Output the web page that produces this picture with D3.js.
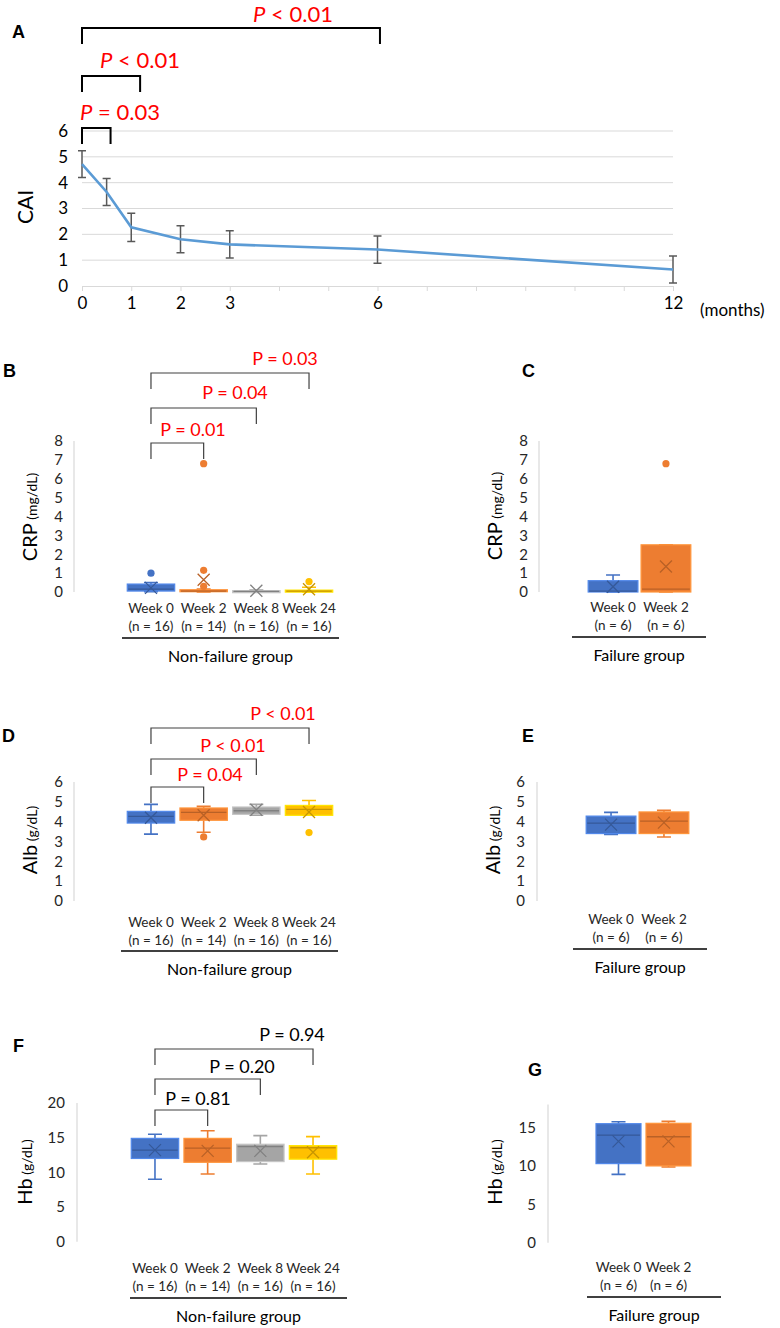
<!DOCTYPE html>
<html lang="en">
<head>
<meta charset="UTF-8">
<title>CAI, CRP, Alb, Hb</title>
<script src="https://d3js.org/d3.v7.min.js"></script>
<style>
  body { margin: 0; background: #fff; }
  svg { display: block; }
  text { font-family: Lato, "Liberation Sans", sans-serif; }
  .panel-letter { font-family: "Liberation Sans", Arial, sans-serif; font-weight: bold; font-size: 18px; }
</style>
</head>
<body>
<script>
// ---- Panel A: CAI over time ----
const caiMonths = [0, 0.5, 1, 2, 3, 6, 12];
const caiMean = [4.72, 3.64, 2.27, 1.81, 1.61, 1.41, 0.64];
const caiSd = [0.52, 0.52, 0.55, 0.52, 0.53, 0.53, 0.52];
const caiTicksY = [0, 1, 2, 3, 4, 5, 6];
const caiTickLabelsX = [0, 1, 2, 3, 6, 12];
const caiBracketEnds = [0.58, 1.18, 6.05];
const caiPLabels = [" = 0.03", " < 0.01", " < 0.01"];

// ---- box plot panels ----
const weeksNF = ["Week 0", "Week 2", "Week 8", "Week 24"];
const nNF = ["(n = 16)", "(n = 14)", "(n = 16)", "(n = 16)"];
const weeksF = ["Week 0", "Week 2"];
const nF = ["(n = 6)", "(n = 6)"];
const boxColors = ["#4472c4", "#ed7d31", "#a5a5a5", "#ffc000"];

// CRP, non-failure (B)
const crpNF_lo = [0.02, 0.0, 0.0, 0.0];
const crpNF_q1 = [0.05, 0.02, 0.01, 0.02];
const crpNF_med = [0.15, 0.05, 0.03, 0.05];
const crpNF_q3 = [0.42, 0.12, 0.07, 0.1];
const crpNF_hi = [0.5, 0.15, 0.1, 0.25];
const crpNF_mean = [0.22, 0.65, 0.07, 0.15];
const crpNF_out = [[1.0], [6.8, 1.15, 0.3], [], [0.55]];
const crpNF_p = ["P = 0.01", "P = 0.04", "P = 0.03"];

// CRP, failure (C)
const crpF_lo = [0.0, 0.0];
const crpF_q1 = [0.0, 0.0];
const crpF_med = [0.05, 0.15];
const crpF_q3 = [0.6, 2.5];
const crpF_hi = [0.9, 2.5];
const crpF_mean = [0.28, 1.35];
const crpF_out = [[], [6.8]];

// Alb, non-failure (D)
const albNF_lo = [3.37, 3.47, 4.32, 4.32];
const albNF_q1 = [3.93, 4.07, 4.37, 4.32];
const albNF_med = [4.27, 4.47, 4.55, 4.62];
const albNF_q3 = [4.52, 4.69, 4.74, 4.82];
const albNF_hi = [4.87, 4.77, 4.87, 5.07];
const albNF_mean = [4.2, 4.32, 4.6, 4.49];
const albNF_out = [[], [3.23], [], [3.45]];
const albNF_p = ["P = 0.04", "P < 0.01", "P < 0.01"];

// Alb, failure (E)
const albF_lo = [3.35, 3.23];
const albF_q1 = [3.4, 3.4];
const albF_med = [3.93, 4.03];
const albF_q3 = [4.28, 4.49];
const albF_hi = [4.47, 4.57];
const albF_mean = [3.85, 3.95];
const albF_out = [[], []];

// Hb, non-failure (F)
const hbNF_lo = [9.0, 9.77, 11.2, 9.77];
const hbNF_q1 = [12.0, 11.45, 11.55, 11.9];
const hbNF_med = [13.2, 13.5, 13.7, 13.55];
const hbNF_q3 = [14.9, 14.9, 14.05, 13.85];
const hbNF_hi = [15.5, 16.0, 15.3, 15.15];
const hbNF_mean = [13.2, 13.1, 13.1, 12.9];
const hbNF_out = [[], [], [], []];
const hbNF_p = ["P = 0.81", "P = 0.20", "P = 0.94"];

// Hb, failure (G)
const hbF_lo = [8.9, 9.85];
const hbF_q1 = [10.3, 10.0];
const hbF_med = [14.0, 13.8];
const hbF_q3 = [15.5, 15.55];
const hbF_hi = [15.75, 15.8];
const hbF_mean = [13.2, 13.2];
const hbF_out = [[], []];

const width = 780, height = 1328;
const svg = d3.select("body").append("svg")
  .attr("width", width)
  .attr("height", height);

function letter(t, x, y) {
  svg.append("text").attr("class", "panel-letter").attr("x", x).attr("y", y).text(t);
}

// ================= Panel A =================
const xA = d3.scaleLinear().domain([0, 12]).range([82, 673]);
const yA = d3.scaleLinear().domain([0, 6]).range([286, 131]);
const gA = svg.append("g");

gA.selectAll(".grid").data(caiTicksY.filter(d => d > 0)).enter().append("line")
  .attr("x1", xA(0)).attr("x2", xA(12))
  .attr("y1", d => yA(d)).attr("y2", d => yA(d))
  .attr("stroke", "#d9d9d9").attr("stroke-width", 1);

gA.append("g")
  .attr("transform", `translate(0,${yA(0)})`)
  .call(d3.axisBottom(xA).tickValues(d3.range(0, 13)).tickSize(5).tickSizeOuter(0).tickPadding(6)
    .tickFormat(d => caiTickLabelsX.includes(d) ? d : ""))
  .call(a => a.selectAll("line, path").attr("stroke", "#d9d9d9"))
  .call(a => a.selectAll("text").attr("font-size", 17).attr("fill", "#000"));

gA.append("g")
  .attr("transform", `translate(${xA(0)},0)`)
  .call(d3.axisLeft(yA).tickValues(caiTicksY).tickFormat(d3.format("d")).tickSize(0).tickPadding(14))
  .call(a => a.select(".domain").remove())
  .call(a => a.selectAll("text").attr("font-size", 17).attr("fill", "#000"));

gA.append("text")
  .attr("transform", "translate(33,207) rotate(-90)")
  .attr("text-anchor", "middle").attr("font-size", 21).text("CAI");

gA.append("text").attr("x", 700).attr("y", 316).attr("font-size", 17).text("(months)");

// error bars
const caiPts = caiMonths.map((m, i) => ({ m, v: caiMean[i], sd: caiSd[i] }));
gA.selectAll(".err").data(caiPts).enter().append("path")
  .attr("d", d => {
    const x = xA(d.m), y1 = yA(d.v + d.sd), y2 = yA(d.v - d.sd);
    return `M${x - 4},${y1}H${x + 4}M${x},${y1}V${y2}M${x - 4},${y2}H${x + 4}`;
  })
  .attr("fill", "none").attr("stroke", "#595959").attr("stroke-width", 1.5);

gA.append("path").datum(caiPts)
  .attr("d", d3.line().x(d => xA(d.m)).y(d => yA(d.v)))
  .attr("fill", "none").attr("stroke", "#5b9bd5").attr("stroke-width", 2.6);

// significance brackets A
const aTops = [128, 76, 28];
const aText = [{ x: 120, y: 120 }, { x: 140, y: 68 }, { x: 293, y: 22 }];
caiBracketEnds.forEach((e, i) => {
  const x1 = xA(0), x2 = xA(e), t = aTops[i];
  gA.append("path")
    .attr("d", `M${x1},${t + 16}V${t}H${x2}V${t + 16}`)
    .attr("fill", "none").attr("stroke", "#000").attr("stroke-width", 2);
  const tx = gA.append("text").attr("x", aText[i].x).attr("y", aText[i].y)
    .attr("text-anchor", "middle").attr("font-size", 22).attr("fill", "#ff0000");
  tx.append("tspan").attr("font-style", "italic").text("P");
  tx.append("tspan").text(caiPLabels[i]);
});
letter("A", 12, 38);

// ================= box panels =================
function boxPanel(o) {
  const g = svg.append("g");
  const x = d3.scaleBand().domain(o.cats).range(o.xr).padding(o.pad);
  const y = d3.scaleLinear().domain(o.dom).range(o.yr);
  const bw = x.bandwidth();
  const cx = c => x(c) + bw / 2;

  g.append("line")
    .attr("x1", o.ax).attr("x2", o.ax)
    .attr("y1", y(o.dom[1])).attr("y2", y(0))
    .attr("stroke", "#d9d9d9").attr("stroke-width", 1.2);

  g.append("g")
    .attr("transform", `translate(${o.ax},0)`)
    .call(d3.axisLeft(y).tickValues(o.ticks).tickFormat(d3.format("d")).tickSize(0).tickPadding(o.tp))
    .call(a => a.select(".domain").remove())
    .call(a => a.selectAll("text").attr("font-size", 15).attr("fill", "#262626"));

  // rotated y label
  const yl = g.append("text")
    .attr("transform", `translate(${o.ylx},${o.yly}) rotate(-90)`)
    .attr("text-anchor", "middle").attr("fill", "#000");
  yl.append("tspan").attr("font-size", 20).text(o.yName);
  yl.append("tspan").attr("font-size", 14).text(" " + o.yUnit);

  const rows = o.cats.map((c, i) => ({
    c, i, col: boxColors[i],
    lo: o.lo[i], q1: o.q1[i], med: o.med[i], q3: o.q3[i], hi: o.hi[i],
    mean: o.mean[i], out: o.out[i]
  }));

  const b = g.selectAll(".box").data(rows).enter().append("g");
  // whiskers
  b.append("path")
    .attr("d", d => {
      const m = cx(d.c), w = 7;
      return `M${m},${y(d.q3)}V${y(d.hi)}M${m - w},${y(d.hi)}H${m + w}` +
             `M${m},${y(d.q1)}V${y(d.lo)}M${m - w},${y(d.lo)}H${m + w}`;
    })
    .attr("fill", "none").attr("stroke", d => d.col).attr("stroke-width", 1.6);
  b.append("rect")
    .attr("x", d => x(d.c)).attr("width", bw)
    .attr("y", d => y(d.q3)).attr("height", d => Math.max(2, y(d.q1) - y(d.q3)))
    .attr("fill", d => d.col)
    .attr("stroke", d => d3.color(d.col).brighter(0.5)).attr("stroke-width", 1.2);
  b.append("line")
    .attr("x1", d => x(d.c) + 1).attr("x2", d => x(d.c) + bw - 1)
    .attr("y1", d => y(d.med)).attr("y2", d => y(d.med))
    .attr("stroke", d => d3.color(d.col).darker(0.7)).attr("stroke-width", 1.3);
  b.append("path")
    .attr("d", d => {
      const m = cx(d.c), v = y(d.mean), s = 6;
      return `M${m - s},${v - s}L${m + s},${v + s}M${m - s},${v + s}L${m + s},${v - s}`;
    })
    .attr("stroke", d => d3.color(d.col).darker(0.7)).attr("stroke-width", 1.3);
  b.selectAll(".out").data(d => d.out.map(v => ({ v, d }))).enter().append("circle")
    .attr("cx", e => cx(e.d.c)).attr("cy", e => y(e.v)).attr("r", 3.6)
    .attr("fill", e => e.d.col);

  // category labels
  o.cats.forEach((c, i) => {
    g.append("text").attr("x", cx(c)).attr("y", o.labY).attr("text-anchor", "middle")
      .attr("font-size", 13.5).attr("fill", "#262626").text(c);
    g.append("text").attr("x", cx(c)).attr("y", o.labY + 18).attr("text-anchor", "middle")
      .attr("font-size", 13.5).attr("fill", "#262626").text(o.ns[i]);
  });
  g.append("line")
    .attr("x1", o.ul[0]).attr("x2", o.ul[1]).attr("y1", o.ulY).attr("y2", o.ulY)
    .attr("stroke", "#000").attr("stroke-width", 1.6);
  g.append("text").attr("x", (o.ul[0] + o.ul[1]) / 2).attr("y", o.ulY + 24)
    .attr("text-anchor", "middle").attr("font-size", 16).attr("fill", "#000").text(o.group);

  // brackets
  if (o.p) {
    o.p.forEach((p, k) => {
      const x1 = cx(o.cats[0]), x2 = cx(o.cats[k + 1]), t = o.bTop[k];
      g.append("path")
        .attr("d", `M${x1},${t + 16}V${t}H${x2}V${t + 16}`)
        .attr("fill", "none").attr("stroke", "#404040").attr("stroke-width", 1.2);
      g.append("text").attr("x", o.pText[k][0]).attr("y", o.pText[k][1])
        .attr("text-anchor", "middle").attr("font-size", 18).attr("fill", o.pColor).text(p);
    });
  }
}

// B
boxPanel({
  cats: weeksNF, ns: nNF, xr: [122, 338], pad: 0.1, dom: [0, 8], yr: [592, 441], ax: 74, tp: 11,
  ticks: d3.range(0, 9), yName: "CRP", yUnit: "(mg/dL)", ylx: 37, yly: 517,
  lo: crpNF_lo, q1: crpNF_q1, med: crpNF_med, q3: crpNF_q3, hi: crpNF_hi, mean: crpNF_mean, out: crpNF_out,
  labY: 613, ul: [122, 339], ulY: 638, group: "Non-failure group",
  p: crpNF_p, bTop: [443, 408, 373], pText: [[193, 436], [235, 399], [285, 365]], pColor: "#ff0000"
});
letter("B", 3, 377);
letter("C", 522, 377);
// C
boxPanel({
  cats: weeksF, ns: nF, xr: [585, 694], pad: 0.06, dom: [0, 8], yr: [592, 441], ax: 539, tp: 11,
  ticks: d3.range(0, 9), yName: "CRP", yUnit: "(mg/dL)", ylx: 502, yly: 516,
  lo: crpF_lo, q1: crpF_q1, med: crpF_med, q3: crpF_q3, hi: crpF_hi, mean: crpF_mean, out: crpF_out,
  labY: 612, ul: [572, 706], ulY: 637, group: "Failure group"
});
// D
boxPanel({
  cats: weeksNF, ns: nNF, xr: [122, 338], pad: 0.1, dom: [0, 6], yr: [901, 782], ax: 74, tp: 11,
  ticks: d3.range(0, 7), yName: "Alb", yUnit: "(g/dL)", ylx: 37, yly: 840,
  lo: albNF_lo, q1: albNF_q1, med: albNF_med, q3: albNF_q3, hi: albNF_hi, mean: albNF_mean, out: albNF_out,
  labY: 927, ul: [121, 338], ulY: 951, group: "Non-failure group",
  p: albNF_p, bTop: [787, 759, 728], pText: [[210, 781], [233, 752], [283, 720]], pColor: "#ff0000"
});
letter("D", 2, 742);
letter("E", 522, 742);
// E
boxPanel({
  cats: weeksF, ns: nF, xr: [583, 692], pad: 0.06, dom: [0, 6], yr: [901, 782], ax: 537, tp: 12,
  ticks: d3.range(0, 7), yName: "Alb", yUnit: "(g/dL)", ylx: 500, yly: 840,
  lo: albF_lo, q1: albF_q1, med: albF_med, q3: albF_q3, hi: albF_hi, mean: albF_mean, out: albF_out,
  labY: 924, ul: [573, 707], ulY: 949, group: "Failure group"
});
// F
boxPanel({
  cats: weeksNF, ns: nNF, xr: [126, 342], pad: 0.1, dom: [0, 20], yr: [1241.7, 1103], ax: 77, tp: 12,
  ticks: [0, 5, 10, 15, 20], yName: "Hb", yUnit: "(g/dL)", ylx: 32, yly: 1172,
  lo: hbNF_lo, q1: hbNF_q1, med: hbNF_med, q3: hbNF_q3, hi: hbNF_hi, mean: hbNF_mean, out: hbNF_out,
  labY: 1273, ul: [130, 347], ulY: 1298, group: "Non-failure group",
  p: hbNF_p, bTop: [1110, 1079, 1049], pText: [[198, 1105], [242, 1073], [292, 1041]], pColor: "#000"
});
letter("F", 13, 1052);
letter("G", 528, 1076);
// G
boxPanel({
  cats: weeksF, ns: nF, xr: [591, 696], pad: 0.1, dom: [0, 18], yr: [1242.7, 1104.5], ax: 548, tp: 12,
  ticks: [0, 5, 10, 15], yName: "Hb", yUnit: "(g/dL)", ylx: 502, yly: 1172,
  lo: hbF_lo, q1: hbF_q1, med: hbF_med, q3: hbF_q3, hi: hbF_hi, mean: hbF_mean, out: hbF_out,
  labY: 1272, ul: [587, 721], ulY: 1297, group: "Failure group"
});
</script>
</body>
</html>
